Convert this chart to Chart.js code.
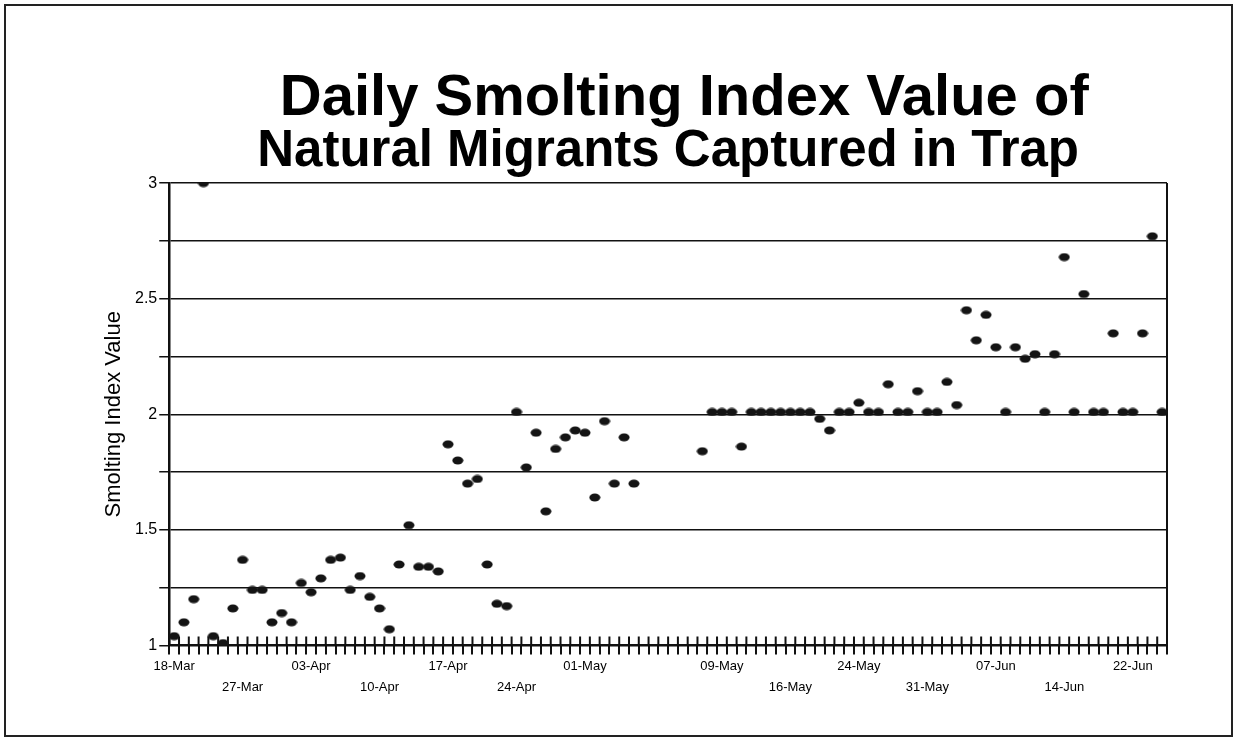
<!DOCTYPE html>
<html>
<head>
<meta charset="utf-8">
<title>Daily Smolting Index Value</title>
<script src="https://cdn.jsdelivr.net/npm/chart.js@4.4.1/dist/chart.umd.min.js"></script>
<style>
  html, body { margin: 0; padding: 0; background: #fff; }
  #wrap { position: relative; width: 1234px; height: 738px; }
  #frame { position: absolute; left: 4px; top: 4px; width: 1225px; height: 729px; border: 2px solid #222; pointer-events: none; }
</style>
</head>
<body>
<div id="wrap">
  <canvas id="smoltChart" width="1234" height="738"></canvas>
  <div id="frame"></div>
</div>
<script>
// date label on every 7th category (one slot was hidden in the original)
const dateLabels = ['18-Mar', '27-Mar', '03-Apr', '10-Apr', '17-Apr', '24-Apr', '01-May', '',
                    '09-May', '16-May', '24-May', '31-May', '07-Jun', '14-Jun', '22-Jun'];
const labelEvery = 7;

// daily smolting index, one value per category (null = no fish that day)
const smoltIndex = [
  1.04, 1.10, 1.20, 3.00, 1.04, 1.01, 1.16, 1.37, 1.24, 1.24,
  1.10, 1.14, 1.10, 1.27, 1.23, 1.29, 1.37, 1.38, 1.24, 1.30,
  1.21, 1.16, 1.07, 1.35, 1.52, 1.34, 1.34, 1.32, 1.87, 1.80,
  1.70, 1.72, 1.35, 1.18, 1.17, 2.01, 1.77, 1.92, 1.58, 1.85,
  1.90, 1.93, 1.92, 1.64, 1.97, 1.70, 1.90, 1.70, null, null,
  null, null, null, null, 1.84, 2.01, 2.01, 2.01, 1.86, 2.01,
  2.01, 2.01, 2.01, 2.01, 2.01, 2.01, 1.98, 1.93, 2.01, 2.01,
  2.05, 2.01, 2.01, 2.13, 2.01, 2.01, 2.10, 2.01, 2.01, 2.14,
  2.04, 2.45, 2.32, 2.43, 2.29, 2.01, 2.29, 2.24, 2.26, 2.01,
  2.26, 2.68, 2.01, 2.52, 2.01, 2.01, 2.35, 2.01, 2.01, 2.35,
  2.77, 2.01
];
const categories = smoltIndex.map((_, i) => i);

const FONT = 'Liberation Sans, Arial, Helvetica, sans-serif';

// flat black ellipse marker like the scanned plot
const dot = document.createElement('canvas');
dot.width = 12;
dot.height = 9;
const g = dot.getContext('2d');
g.fillStyle = '#141414';
g.beginPath();
g.ellipse(6, 4.5, 5.5, 4, 0, 0, Math.PI * 2);
g.fill();

// tick marks crossing the category axis + right edge of the plot box
const axisMarks = {
  id: 'axisMarks',
  beforeDatasetsDraw(chart) {
    const { ctx, chartArea, scales: { x } } = chart;
    const half = (x.getPixelForValue(1) - x.getPixelForValue(0)) / 2;
    ctx.save();
    ctx.strokeStyle = '#111';
    ctx.lineWidth = 2;
    ctx.beginPath();
    for (let i = 0; i <= smoltIndex.length; i++) {
      const px = x.getPixelForValue(i) - half;
      ctx.moveTo(px, chartArea.bottom);
      ctx.lineTo(px, chartArea.bottom - 9);
    }
    ctx.moveTo(chartArea.right, chartArea.top);
    ctx.lineTo(chartArea.right, chartArea.bottom);
    ctx.stroke();
    ctx.restore();
  }
};

new Chart(document.getElementById('smoltChart'), {
  type: 'line',
  data: {
    labels: categories,
    datasets: [{
      data: smoltIndex,
      showLine: false,
      pointStyle: dot,
      pointRadius: 5,
      pointHoverRadius: 5
    }]
  },
  plugins: [axisMarks],
  options: {
    responsive: false,
    animation: false,
    layout: { padding: { left: 99, right: 67, top: 0, bottom: 38 } },
    plugins: {
      legend: { display: false },
      tooltip: { enabled: false },
      title: {
        display: true,
        fullSize: false,
        text: '  Daily Smolting Index Value of',
        color: '#000',
        font: { family: FONT, size: 58, weight: 'bold', lineHeight: 0.9 },
        padding: { top: 73, bottom: 0 }
      },
      subtitle: {
        display: true,
        fullSize: false,
        text: 'Natural Migrants Captured in Trap',
        color: '#000',
        font: { family: FONT, size: 51, weight: 'bold', lineHeight: 0.9 },
        padding: { top: 4, bottom: 8 }
      }
    },
    scales: {
      x: {
        type: 'category',
        offset: true,
        grid: { offset: true, drawOnChartArea: false, tickLength: 9, color: '#111', lineWidth: 2 },
        border: { color: '#111', width: 2 },
        ticks: {
          autoSkip: false,
          maxRotation: 0,
          minRotation: 0,
          padding: 2,
          color: '#000',
          font: { family: FONT, size: 13, lineHeight: 1.6 },
          callback(value, index) {
            if (index % labelEvery !== 0) return '';
            const k = index / labelEvery;
            const text = dateLabels[k] || '';
            return k % 2 === 0 ? [text, ''] : ['', text];
          }
        }
      },
      y: {
        min: 1,
        max: 3,
        grid: { color: '#111', lineWidth: 1.5, tickLength: 10 },
        border: { color: '#111', width: 2.5 },
        ticks: {
          stepSize: 0.25,
          padding: 2,
          color: '#000',
          font: { family: FONT, size: 16 },
          callback(v) { return (v * 2) % 1 === 0 ? String(v) : ''; }
        },
        title: {
          display: true,
          text: 'Smolting Index Value',
          color: '#000',
          font: { family: FONT, size: 22, lineHeight: 1 },
          padding: { top: 4, bottom: 8 }
        }
      }
    }
  }
});
</script>
</body>
</html>
